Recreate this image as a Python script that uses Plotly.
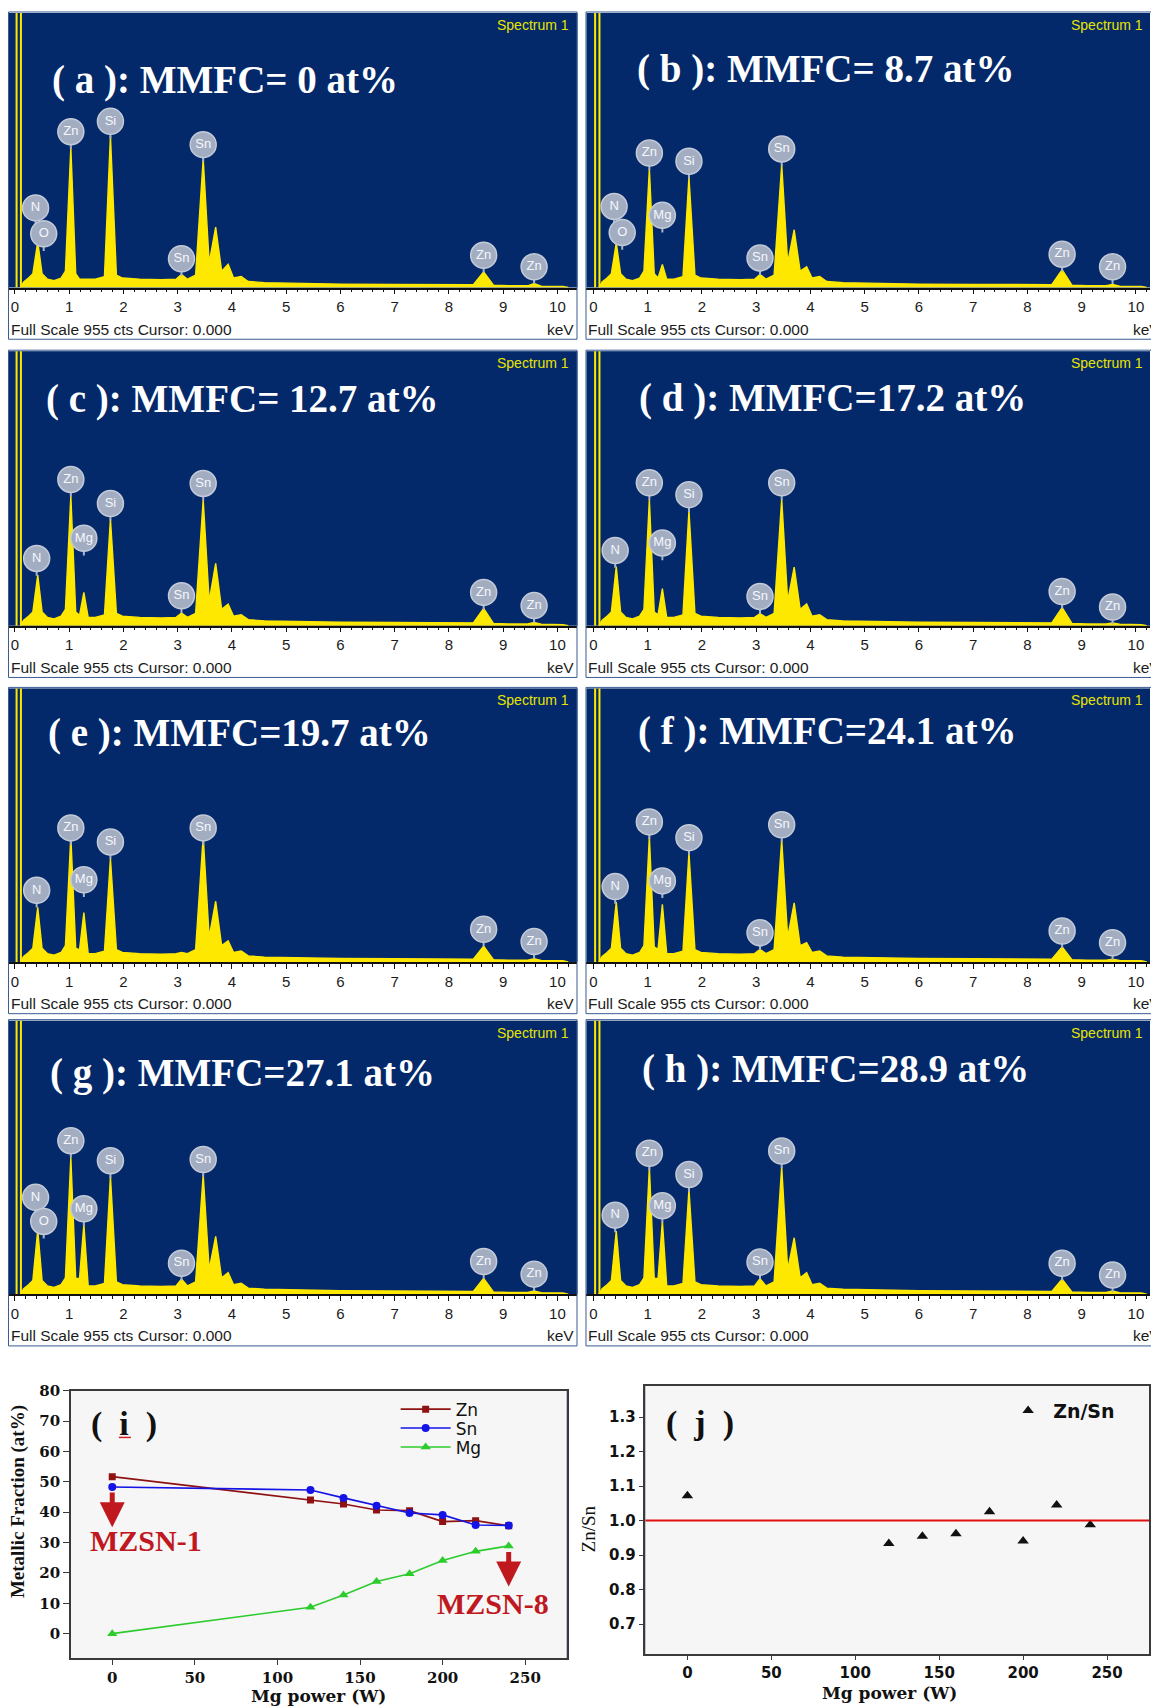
import plotly.graph_objects as go

W, H = 1151, 1707

# ---------------- EDS spectra (a)-(h) : counts ----------------
FULL_SCALE_CTS = 955
ENERGY_KEV = [0.10, 0.16, 0.25, 0.33, 0.42, 0.50, 0.60, 0.72, 0.85, 0.93,
              1.03, 1.12, 1.19, 1.27, 1.35, 1.48, 1.65, 1.76, 1.87, 1.98,
              2.30, 2.70, 2.97, 3.07, 3.18, 3.33, 3.47, 3.58, 3.70, 3.81,
              3.93, 4.03, 4.17, 4.30, 4.60, 5.20, 6.00, 7.00, 8.00, 8.45,
              8.64, 8.82, 9.10, 9.45, 9.57, 9.70, 10.10, 10.20]

COUNTS_A = [0, 19, 33, 48, 159, 48, 29, 24, 33, 57,
            488, 48, 29, 29, 29, 29, 38, 528, 43, 33,
            29, 27, 29, 46, 29, 43, 448, 86, 210, 57,
            81, 33, 38, 21, 17, 14, 12, 11, 9, 10,
            54, 8, 6, 6, 14, 5, 4, 0]
COUNTS_B = [0, 19, 33, 48, 155, 48, 29, 24, 33, 57,
            413, 48, 33, 80, 29, 29, 38, 384, 43, 33,
            29, 27, 29, 46, 29, 43, 428, 86, 201, 57,
            72, 33, 38, 21, 17, 14, 12, 11, 9, 10,
            62, 8, 6, 6, 11, 5, 4, 0]
COUNTS_C = [0, 19, 33, 48, 176, 48, 29, 24, 33, 57,
            452, 48, 36, 116, 29, 29, 38, 371, 43, 33,
            29, 27, 29, 44, 29, 43, 438, 86, 217, 57,
            75, 33, 38, 21, 17, 14, 12, 11, 9, 10,
            60, 8, 6, 6, 11, 5, 4, 0]
COUNTS_D = [0, 19, 33, 48, 206, 48, 29, 24, 33, 57,
            439, 48, 38, 129, 29, 29, 38, 401, 43, 33,
            29, 27, 29, 42, 29, 43, 441, 86, 204, 57,
            76, 33, 38, 21, 17, 14, 12, 11, 9, 10,
            63, 8, 6, 6, 10, 5, 4, 0]
COUNTS_E = [0, 19, 33, 48, 191, 48, 29, 24, 33, 57,
            438, 48, 42, 172, 29, 29, 38, 361, 43, 33,
            29, 27, 29, 33, 29, 43, 438, 86, 212, 57,
            74, 33, 38, 21, 17, 14, 12, 11, 9, 10,
            55, 8, 6, 6, 11, 5, 4, 0]
COUNTS_F = [0, 19, 33, 48, 209, 48, 29, 24, 33, 57,
            438, 52, 45, 201, 29, 29, 38, 381, 43, 33,
            29, 27, 29, 44, 29, 43, 427, 86, 206, 57,
            67, 33, 38, 21, 17, 14, 12, 11, 9, 10,
            53, 8, 6, 6, 10, 5, 4, 0]
COUNTS_G = [0, 19, 33, 48, 224, 48, 29, 24, 33, 57,
            478, 55, 55, 244, 29, 29, 38, 412, 43, 33,
            29, 27, 29, 53, 29, 43, 417, 86, 202, 57,
            75, 33, 38, 21, 17, 14, 12, 11, 9, 10,
            55, 8, 6, 6, 11, 5, 4, 0]
COUNTS_H = [0, 19, 33, 48, 220, 48, 29, 24, 33, 57,
            443, 55, 55, 255, 29, 29, 38, 365, 43, 33,
            29, 27, 29, 54, 29, 43, 446, 86, 197, 57,
            75, 33, 38, 21, 17, 14, 12, 11, 9, 10,
            53, 8, 6, 6, 11, 5, 4, 0]

STROBE_KEV = [0.03, 0.11]

# peak labels: (element, keV, label height in cts)
LABELS_A = [("N", 0.38, 277), ("O", 0.53, 187), ("Zn", 1.03, 542), ("Si", 1.76, 578),
            ("Sn", 3.07, 100), ("Sn", 3.47, 497), ("Zn", 8.64, 112), ("Zn", 9.57, 72)]
LABELS_B = [("N", 0.38, 282), ("O", 0.53, 191), ("Zn", 1.03, 468), ("Mg", 1.27, 251),
            ("Si", 1.76, 439), ("Sn", 3.07, 103), ("Sn", 3.47, 482), ("Zn", 8.64, 116),
            ("Zn", 9.57, 72)]
LABELS_C = [("N", 0.40, 234), ("Zn", 1.03, 509), ("Mg", 1.27, 304), ("Si", 1.76, 425),
            ("Sn", 3.07, 104), ("Sn", 3.47, 495), ("Zn", 8.64, 116), ("Zn", 9.57, 70)]
LABELS_D = [("N", 0.40, 262), ("Zn", 1.03, 497), ("Mg", 1.27, 288), ("Si", 1.76, 456),
            ("Sn", 3.07, 102), ("Sn", 3.47, 497), ("Zn", 8.64, 119), ("Zn", 9.57, 65)]
LABELS_E = [("N", 0.40, 250), ("Zn", 1.03, 468), ("Mg", 1.27, 287), ("Si", 1.76, 419),
            ("Sn", 3.47, 468), ("Zn", 8.64, 114), ("Zn", 9.57, 71)]
LABELS_F = [("N", 0.40, 263), ("Zn", 1.03, 489), ("Mg", 1.27, 283), ("Si", 1.76, 434),
            ("Sn", 3.07, 102), ("Sn", 3.47, 479), ("Zn", 8.64, 108), ("Zn", 9.57, 67)]
LABELS_G = [("N", 0.38, 338), ("O", 0.53, 254), ("Zn", 1.03, 536), ("Mg", 1.27, 298),
            ("Si", 1.76, 466), ("Sn", 3.07, 108), ("Sn", 3.47, 470), ("Zn", 8.64, 114),
            ("Zn", 9.57, 70)]
LABELS_H = [("N", 0.40, 276), ("Zn", 1.03, 492), ("Mg", 1.27, 309), ("Si", 1.76, 418),
            ("Sn", 3.07, 112), ("Sn", 3.47, 500), ("Zn", 8.64, 108), ("Zn", 9.57, 67)]

TITLES = ["( a ): MMFC= 0 at%", "( b ): MMFC= 8.7 at%", "( c ): MMFC= 12.7 at%",
          "( d ): MMFC=17.2 at%", "( e ): MMFC=19.7 at%", "( f ): MMFC=24.1 at%",
          "( g ): MMFC=27.1 at%", "( h ): MMFC=28.9 at%"]
KEV_TICKS = [0, 1, 2, 3, 4, 5, 6, 7, 8, 9, 10]

# ---------------- (i) metallic fractions, (j) Zn/Sn ----------------
POWER_W = [0, 120, 140, 160, 180, 200, 220, 240]
ZN_AT = [51.7, 44.0, 42.7, 40.7, 40.5, 36.9, 37.2, 35.5]
SN_AT = [48.3, 47.3, 44.7, 42.1, 39.7, 39.1, 35.8, 35.6]
MG_AT = [0.0, 8.7, 12.7, 17.2, 19.7, 24.1, 27.1, 28.9]
ZN_SN = [1.072, 0.934, 0.955, 0.962, 1.026, 0.941, 1.045, 0.988]
POWER_TICKS = [0, 50, 100, 150, 200, 250]
FRACTION_TICKS = [0, 10, 20, 30, 40, 50, 60, 70, 80]
RATIO_TICKS = [0.7, 0.8, 0.9, 1.0, 1.1, 1.2, 1.3]


def px_x(p):
    return p / W


def px_y(p):
    return 1 - p / H


NAVY = "#03296a"
YELLOW = "#FFE800"
STEM = 60  # cts, label stem length

fig = go.Figure()
annotations = []
shapes = []

PANELS = [(COUNTS_A, LABELS_A), (COUNTS_B, LABELS_B), (COUNTS_C, LABELS_C),
          (COUNTS_D, LABELS_D), (COUNTS_E, LABELS_E), (COUNTS_F, LABELS_F),
          (COUNTS_G, LABELS_G), (COUNTS_H, LABELS_H)]
COLS = [(9, 578, -0.11, 10.37), (587, 1151, -0.129, 10.26)]
ROWS = [(4, 280), (344, 620), (683, 958), (1017, 1292)]
TITLE_POS = [(50, 71), (636, 60), (44, 392), (638, 391), (46, 728), (637, 726),
             (48, 1070), (641, 1066)]

axis_font = dict(family="Liberation Sans", size=15, color="#1b1b1b")

for k, (counts, labels) in enumerate(PANELS):
    n = k + 1
    col, row = k % 2, k // 2
    xl, xr, r0, r1 = COLS[col]
    yt, yb = ROWS[row]
    xa = "x" if n == 1 else f"x{n}"
    ya = "y" if n == 1 else f"y{n}"
    xname = "xaxis" if n == 1 else f"xaxis{n}"
    yname = "yaxis" if n == 1 else f"yaxis{n}"
    fig.update_layout({
        xname: dict(domain=[px_x(xl), px_x(xr)], range=[r0, r1], anchor=ya,
                    showline=True, linecolor="#111111", linewidth=1.5, mirror=False,
                    ticks="outside", ticklen=5, tickwidth=1.3, tickcolor="#111111",
                    tickvals=KEV_TICKS, tickfont=axis_font, showgrid=False, zeroline=False,
                    minor=dict(dtick=0.2, tick0=0, ticks="outside", ticklen=3,
                               tickwidth=1, tickcolor="#111111", showgrid=False),
                    fixedrange=True),
        yname: dict(domain=[px_y(yb), px_y(yt)], range=[0, FULL_SCALE_CTS], anchor=xa,
                    visible=False, fixedrange=True),
    })
    # zero-energy strobe
    fig.add_trace(go.Scatter(x=[STROBE_KEV[0], STROBE_KEV[0], None, STROBE_KEV[1], STROBE_KEV[1]],
                             y=[0, FULL_SCALE_CTS * 1.1, None, 0, FULL_SCALE_CTS * 1.1],
                             mode="lines", line=dict(color=YELLOW, width=2),
                             xaxis=xa, yaxis=ya, showlegend=False, hoverinfo="skip"))
    # spectrum
    fig.add_trace(go.Scatter(x=ENERGY_KEV, y=counts, mode="lines", fill="tozeroy",
                             fillcolor=YELLOW, line=dict(color=YELLOW, width=1.4),
                             xaxis=xa, yaxis=ya, showlegend=False, hoverinfo="skip"))
    # label stems
    sx, sy = [], []
    for el, e, ly in labels:
        sx += [e, e, None]
        sy += [ly, ly - STEM, None]
    fig.add_trace(go.Scatter(x=sx, y=sy, mode="lines", line=dict(color="#AAB4C8", width=2),
                             xaxis=xa, yaxis=ya, showlegend=False, hoverinfo="skip"))
    fig.add_trace(go.Scatter(x=[l[1] for l in labels], y=[l[2] for l in labels],
                             mode="markers+text", text=[l[0] for l in labels],
                             textposition="middle center",
                             marker=dict(size=26, color="#A3ADC2",
                                         line=dict(color="#C3CAD8", width=1.5)),
                             textfont=dict(family="Liberation Sans", size=13, color="#F5F7FB"),
                             cliponaxis=False, xaxis=xa, yaxis=ya, showlegend=False,
                             hoverinfo="skip"))
    # frame
    shapes.append(dict(type="rect", xref="paper", yref="paper",
                       x0=px_x(xl - 0.5), x1=px_x(xr - 0.5 if col == 0 else xr + 2),
                       y0=px_y(yb + 52), y1=px_y(yt - 1),
                       line=dict(color="#3A5C93", width=1), fillcolor="rgba(0,0,0,0)",
                       layer="above"))
    # texts
    tx, ty = TITLE_POS[k]
    annotations.append(dict(text=TITLES[k], xref="paper", yref="paper", x=px_x(tx), y=px_y(ty),
                            xanchor="left", yanchor="middle", showarrow=False,
                            font=dict(family="Liberation Serif", size=39, color="white",
                                      weight="bold")))
    annotations.append(dict(text="Spectrum 1", xref="paper", yref="paper",
                            x=px_x(xr - 7 if col == 0 else 1146), y=px_y(yt + 12),
                            xanchor="right", yanchor="middle", showarrow=False,
                            font=dict(family="Liberation Sans", size=14, color="#E8E400")))
    annotations.append(dict(text="Full Scale 955 cts Cursor: 0.000", xref="paper", yref="paper",
                            x=px_x(xl), y=px_y(yb + 42), xanchor="left", yanchor="middle",
                            showarrow=False,
                            font=dict(family="Liberation Sans", size=15.5, color="#1b1b1b")))
    annotations.append(dict(text="keV", xref="paper", yref="paper",
                            x=px_x(xr - 1 if col == 0 else 1163), y=px_y(yb + 42),
                            xanchor="right", yanchor="middle", showarrow=False,
                            font=dict(family="Liberation Sans", size=15.5, color="#1b1b1b")))

# ---------------- panels (i) and (j) ----------------
serif_b = dict(family="DejaVu Serif", size=15, color="#111111", weight="bold")
sans_b = dict(family="DejaVu Sans", size=15, color="#111111", weight="bold")
common = dict(showline=True, mirror=True, linecolor="#3a3a3a", linewidth=1.5,
              ticks="outside", tickcolor="#3a3a3a", showgrid=False, zeroline=False,
              fixedrange=True)
fig.update_layout(
    xaxis9=dict(domain=[px_x(71), px_x(567)], range=[-25, 275], anchor="y9",
                ticklen=5, tickvals=POWER_TICKS, tickfont=serif_b, **common),
    yaxis9=dict(domain=[px_y(1658), px_y(1389)], range=[-8.1, 80], anchor="x9",
                ticklen=6, tickvals=FRACTION_TICKS, tickfont=serif_b, **common),
    xaxis10=dict(domain=[px_x(646), px_x(1150)], range=[-25, 275], anchor="y10",
                 ticklen=4, tickvals=POWER_TICKS, tickfont=sans_b, **common),
    yaxis10=dict(domain=[px_y(1654), px_y(1384)], range=[0.6126, 1.391], anchor="x10",
                 ticklen=5, tickvals=RATIO_TICKS, tickformat=".1f", tickfont=sans_b, **common),
)

fig.add_trace(go.Scatter(x=POWER_W, y=ZN_AT, name="Zn", mode="lines+markers",
                         line=dict(color="#8E1212", width=1.6),
                         marker=dict(symbol="square", size=7, color="#8E1212"),
                         xaxis="x9", yaxis="y9", legend="legend", hoverinfo="skip"))
fig.add_trace(go.Scatter(x=POWER_W, y=SN_AT, name="Sn", mode="lines+markers",
                         line=dict(color="#1414E6", width=1.6),
                         marker=dict(symbol="circle", size=8, color="#1414E6"),
                         xaxis="x9", yaxis="y9", legend="legend3", hoverinfo="skip"))
fig.add_trace(go.Scatter(x=POWER_W, y=MG_AT, name="Mg", mode="lines+markers",
                         line=dict(color="#2DCC2D", width=1.6),
                         marker=dict(symbol="triangle-up", size=9, color="#2DCC2D"),
                         xaxis="x9", yaxis="y9", legend="legend4", hoverinfo="skip"))
fig.add_trace(go.Scatter(x=POWER_W, y=ZN_SN, name="Zn/Sn", mode="markers",
                         marker=dict(symbol="triangle-up", size=10, color="#111111"),
                         xaxis="x10", yaxis="y10", legend="legend2", hoverinfo="skip"))

RED = "#C0181F"
shapes += [
    dict(type="rect", xref="x9 domain", yref="y9 domain", x0=0, x1=1, y0=0, y1=1,
         fillcolor="#F6F6F6", line=dict(width=0), layer="below"),
    dict(type="rect", xref="x10 domain", yref="y10 domain", x0=0, x1=1, y0=0, y1=1,
         fillcolor="#F6F6F6", line=dict(width=0), layer="below"),
    dict(type="line", xref="x10 domain", yref="y10", x0=0, x1=1, y0=1.0, y1=1.0,
         line=dict(color="#E01010", width=2)),
    dict(type="line", xref="paper", yref="paper", x0=px_x(119), x1=px_x(131),
         y0=px_y(1436), y1=px_y(1436), line=dict(color="#D02020", width=1.5)),
]

annotations += [
    dict(text="(  i  )", xref="paper", yref="paper", x=px_x(124), y=px_y(1422),
         xanchor="center", yanchor="middle", showarrow=False,
         font=dict(family="Liberation Serif", size=34, color="#111111", weight="bold")),
    dict(text="(  j  )", xref="paper", yref="paper", x=px_x(701), y=px_y(1421),
         xanchor="center", yanchor="middle", showarrow=False,
         font=dict(family="Liberation Serif", size=34, color="#111111", weight="bold")),
    dict(text="Metallic Fraction (at%)", xref="paper", yref="paper", x=px_x(18), y=px_y(1500),
         xanchor="center", yanchor="middle", showarrow=False, textangle=-90,
         font=dict(family="Liberation Serif", size=19, color="#111111", weight="bold")),
    dict(text="Mg power (W)", xref="paper", yref="paper", x=px_x(319), y=px_y(1696),
         xanchor="center", yanchor="middle", showarrow=False,
         font=dict(family="DejaVu Serif", size=17, color="#111111", weight="bold")),
    dict(text="Zn/Sn", xref="paper", yref="paper", x=px_x(589), y=px_y(1528),
         xanchor="center", yanchor="middle", showarrow=False, textangle=-90,
         font=dict(family="Liberation Serif", size=19, color="#111111")),
    dict(text="Mg power (W)", xref="paper", yref="paper", x=px_x(890), y=px_y(1693),
         xanchor="center", yanchor="middle", showarrow=False,
         font=dict(family="DejaVu Serif", size=17, color="#111111", weight="bold")),
    # MZSN arrows and labels
    dict(text="", xref="x9", yref="y9", x=POWER_W[0], y=35, axref="x9", ayref="y9",
         ax=POWER_W[0], ay=47, showarrow=True, arrowhead=2, arrowsize=1, arrowwidth=5,
         arrowcolor=RED),
    dict(text="MZSN-1", xref="x9", yref="y9", x=20.5, y=30.6, xanchor="center",
         yanchor="middle", showarrow=False,
         font=dict(family="Liberation Serif", size=30, color=RED, weight="bold")),
    dict(text="", xref="x9", yref="y9", x=POWER_W[-1], y=15.5, axref="x9", ayref="y9",
         ax=POWER_W[-1], ay=27.4, showarrow=True, arrowhead=2, arrowsize=1, arrowwidth=5,
         arrowcolor=RED),
    dict(text="MZSN-8", xref="x9", yref="y9", x=230.7, y=10.0, xanchor="center",
         yanchor="middle", showarrow=False,
         font=dict(family="Liberation Serif", size=30, color=RED, weight="bold")),
]

leg_common = dict(xanchor="left", yanchor="middle", bgcolor="rgba(0,0,0,0)", borderwidth=0,
                  itemwidth=50, font=dict(family="DejaVu Sans", size=17, color="#111111"))
fig.update_layout(
    width=W, height=H, margin=dict(l=0, r=0, t=0, b=0),
    paper_bgcolor="white", plot_bgcolor=NAVY,
    showlegend=True, hovermode=False,
    legend=dict(x=px_x(396), y=px_y(1408), **leg_common),
    legend3=dict(x=px_x(396), y=px_y(1427), **leg_common),
    legend4=dict(x=px_x(396), y=px_y(1446), **leg_common),
    legend2=dict(x=px_x(1004), y=px_y(1409), xanchor="left", yanchor="middle",
                 bgcolor="rgba(0,0,0,0)", borderwidth=0, itemwidth=40,
                 font=dict(family="DejaVu Sans", size=19, color="#111111", weight="bold")),
    annotations=annotations, shapes=shapes,
)

fig.write_html("out.html")
